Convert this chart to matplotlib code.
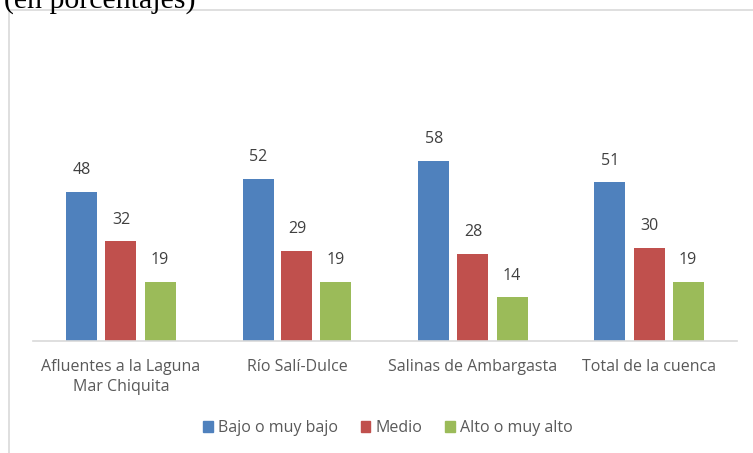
import matplotlib.pyplot as plt
from matplotlib.patches import Rectangle, Patch
import numpy as np

categories = ["Afluentes a la Laguna\nMar Chiquita", "Río Salí-Dulce", "Salinas de Ambargasta", "Total de la cuenca"]
series_names = ["Bajo o muy bajo", "Medio", "Alto o muy alto"]
bajo = [48, 52, 58, 51]
medio = [32, 29, 28, 30]
alto = [19, 19, 14, 19]
colors = ["#4f81bd", "#c0504d", "#9bbb59"]

plt.rcParams['font.family'] = ['Open Sans', 'DejaVu Sans']
W, H = 753, 453
fig = plt.figure(figsize=(W / 100, H / 100), dpi=100)

# outer chart border
fig.patches.append(Rectangle((9 / W, -0.1), 1.2, 1 - 10 / H + 0.1, transform=fig.transFigure,
                             fill=False, edgecolor="#d9d9d9", linewidth=1.2))
fig.text(4 / W, 1 - 8 / H, "(en porcentajes)", family="Liberation Serif", fontsize=21.5,
         va="baseline", ha="left", color="black")

ppu = 3.11
ymax = 70
bottom_px = 341
ax = fig.add_axes([33 / W, 1 - bottom_px / H, 704 / W, ymax * ppu / H])
x = np.arange(len(categories))
bw = 31 / 176
step = 39 / 176
for i, (vals, c, name) in enumerate(zip([bajo, medio, alto], colors, series_names)):
    bars = ax.bar(x + (i - 1) * step, vals, width=bw, color=c, label=name)
    for b, v in zip(bars, vals):
        ax.annotate(str(v), (b.get_x() + b.get_width() / 2, v), xytext=(0, 10),
                    textcoords="offset points", ha="center", va="bottom",
                    fontsize=11.5, color="#404040")
ax.set_xlim(-0.5, len(categories) - 0.5)
ax.set_ylim(0, ymax)
for s in ["top", "right", "left"]:
    ax.spines[s].set_visible(False)
ax.spines["bottom"].set_color("#d9d9d9")
ax.spines["bottom"].set_linewidth(1.2)
ax.set_yticks([])
ax.set_xticks(x)
ax.set_xticklabels(categories, fontsize=11.5, color="#595959", linespacing=1.3)
ax.tick_params(axis="x", length=0, pad=13)

handles = [Patch(color=c) for c in colors]
fig.legend(handles, series_names, loc="center", bbox_to_anchor=(388 / W, 1 - 428 / H),
           ncol=3, frameon=False, fontsize=11.5, handlelength=0.6, handleheight=0.7,
           handletextpad=0.35, columnspacing=1.4, labelcolor="#595959")

fig.savefig("out.png", dpi=100)
